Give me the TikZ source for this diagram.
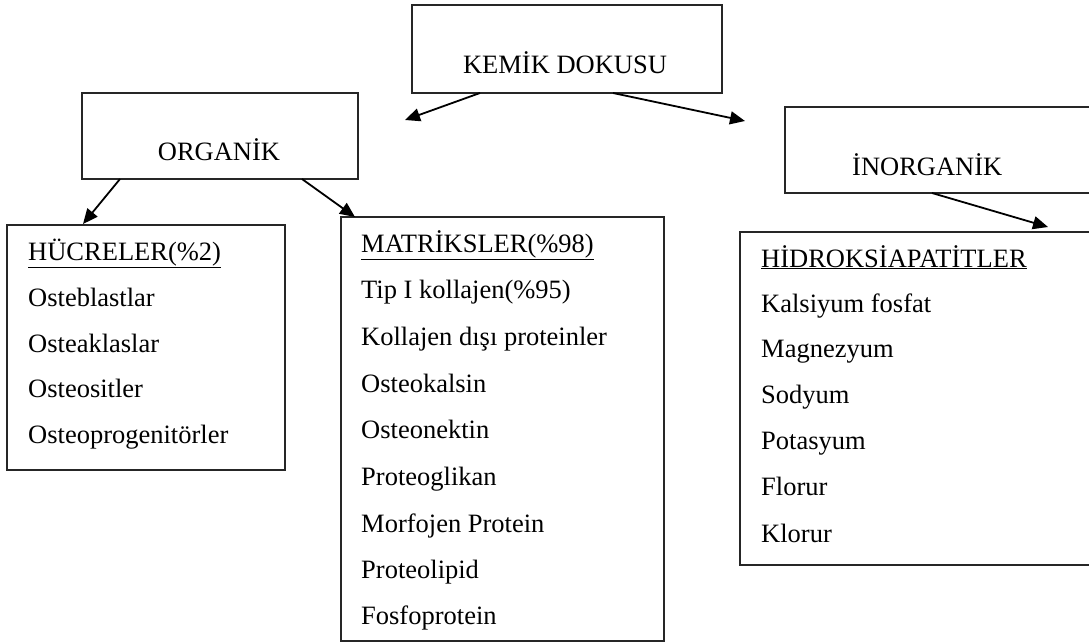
\documentclass[tikz,border=0pt]{standalone}
\usepackage{fontspec}
\setmainfont{Liberation Serif}
\usetikzlibrary{arrows.meta}
\begin{document}
\begin{tikzpicture}[x=1pt,y=-1pt,
 box/.style={draw=black!85,line width=1.6pt,inner sep=0pt,outer sep=0pt,anchor=north west},
 txt/.style={inner sep=0pt,anchor=base west,font=\fontsize{26.5}{30}\selectfont},
 ctxt/.style={inner sep=0pt,anchor=base,font=\fontsize{26.5}{30}\selectfont},
 arr/.style={line width=1.8pt,-{Triangle[length=15pt,width=13pt]}}]
\useasboundingbox (0,0) rectangle (1089,643);
\clip (0,0) rectangle (1089,643);
% boxes
\node[box,minimum width=310pt,minimum height=88pt] (kemik) at (412,5) {};
\node[box,minimum width=276pt,minimum height=86pt] (org) at (82,93) {};
\node[box,minimum width=330pt,minimum height=86pt] (inorg) at (785,107) {};
\node[box,minimum width=278pt,minimum height=245pt] (huc) at (7,225) {};
\node[box,minimum width=323pt,minimum height=424pt] (mat) at (341,217) {};
\node[box,minimum width=370pt,minimum height=333pt] (hid) at (740,232) {};
% titles
\node[ctxt] (tkemik) at (565,73) {KEMİK DOKUSU};
\node[ctxt] (torg) at (219,160) {ORGANİK};
\node[txt] (tinorg) at (852,175) {İNORGANİK};
% lists
\node[txt] (h1) at (28,260) {\underline{HÜCRELER(\%2)}};
\node[txt] (h2) at (28,306) {Osteblastlar};
\node[txt] (h3) at (28,352) {Osteaklaslar};
\node[txt] (h4) at (28,397) {Osteositler};
\node[txt] (h5) at (28,443) {Osteoprogenitörler};
\node[txt] (m1) at (361,252) {\underline{MATRİKSLER(\%98)}};
\node[txt] (m2) at (361,298) {Tip I kollajen(\%95)};
\node[txt] (m3) at (361,345) {Kollajen dışı proteinler};
\node[txt] (m4) at (361,392) {Osteokalsin};
\node[txt] (m5) at (361,438) {Osteonektin};
\node[txt] (m6) at (361,485) {Proteoglikan};
\node[txt] (m7) at (361,532) {Morfojen Protein};
\node[txt] (m8) at (361,578) {Proteolipid};
\node[txt] (m9) at (361,624) {Fosfoprotein};
\node[txt] (x1) at (761,267) {\underline{HİDROKSİAPATİTLER}};
\node[txt] (x2) at (761,312) {Kalsiyum fosfat};
\node[txt] (x3) at (761,357) {Magnezyum};
\node[txt] (x4) at (761,403) {Sodyum};
\node[txt] (x5) at (761,449) {Potasyum};
\node[txt] (x6) at (761,495) {Florur};
\node[txt] (x7) at (761,542) {Klorur};
% arrow end points
\coordinate (k1) at (480,93);
\coordinate (k1e) at (405,120);
\coordinate (k2) at (613,93);
\coordinate (k2e) at (745,121);
\coordinate (o1) at (120,179);
\coordinate (o1e) at (83,224);
\coordinate (o2) at (302,179);
\coordinate (o2e) at (355,217);
\coordinate (i1) at (932,193);
\coordinate (i1e) at (1048,227);
\draw[arr] (k1) -- (k1e);
\draw[arr] (k2) -- (k2e);
\draw[arr] (o1) -- (o1e);
\draw[arr] (o2) -- (o2e);
\draw[arr] (i1) -- (i1e);
\end{tikzpicture}
\end{document}
